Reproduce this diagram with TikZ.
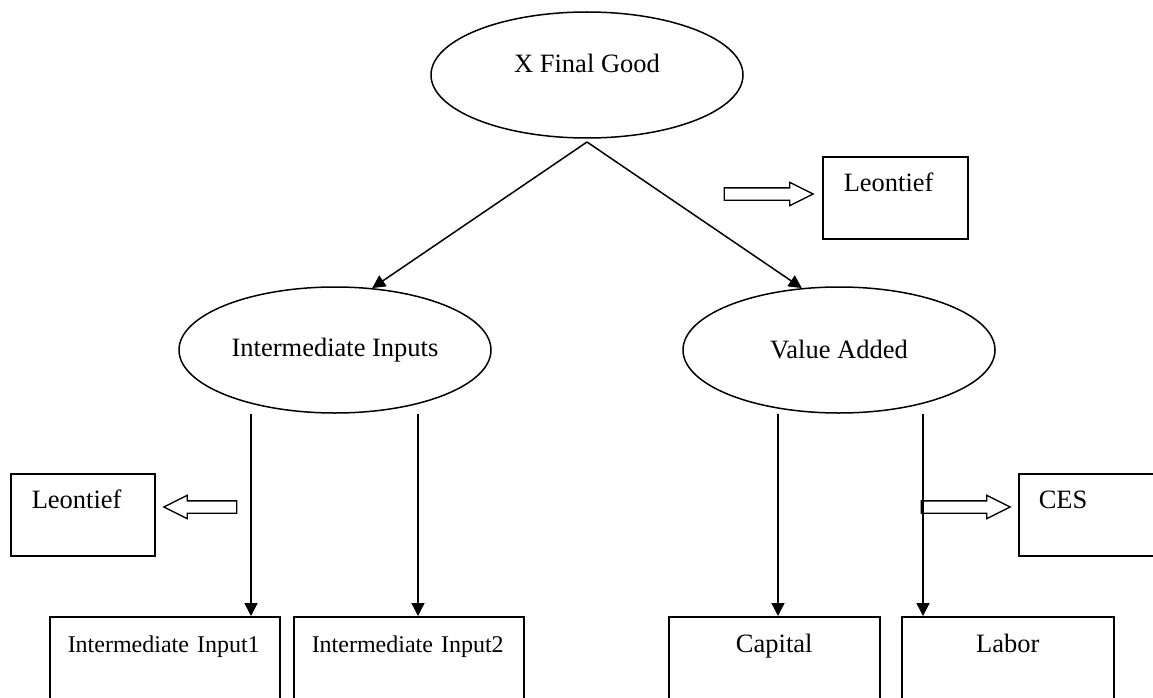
\documentclass[tikz,border=0pt]{standalone}
\usepackage{fontspec}
\setmainfont{Liberation Serif}
\usetikzlibrary{shapes.geometric, shapes.arrows, arrows.meta, positioning}

\tikzset{
  oval/.style={draw, ellipse, line width=1.5pt, minimum width=312pt, minimum height=126pt, inner sep=0pt},
  panel/.style={draw, rectangle, line width=1.5pt, anchor=north west, inner sep=0pt, text height=35pt, text depth=47pt},
  deep/.style={text height=36pt, text depth=110pt},
  lefttext/.style={inner xsep=#1, align=left},
  narrow/.style={font=\fontsize{24}{29}\selectfont},
  flow/.style={-{Triangle[length=13pt,width=13pt]}, line width=1.5pt},
  push/.style={draw, single arrow, line width=1.3pt, inner xsep=0pt, inner ysep=5.5pt,
    single arrow head extend=5.5pt, single arrow tip angle=53, single arrow head indent=0pt}
}

\begin{document}
\begin{tikzpicture}[x=1pt, y=-1pt, every node/.style={font=\fontsize{26.5}{32}\selectfont}]
\useasboundingbox (0,0) rectangle (1153,698);
\clip (0,0) rectangle (1153,698);

\node[oval, text depth=24pt] (final) at (587,75) {X Final Good\hspace{18pt}};
\node[oval] (inter) at (335,350) {Intermediate Inputs\hspace{40pt}};
\node[oval] (value) at (839,350) {Value Added};

\node[panel, lefttext=21pt, text width=103pt] (leon-top) at (822,156) {Leontief};
\node[panel, lefttext=21pt, text width=102pt] (leon-left) at (10,473) {Leontief};
\node[panel, lefttext=20pt, text width=120pt] (ces) at (1018,473) {CES};

\node[panel, deep, narrow, lefttext=18pt, text width=194pt] (in1) at (49,616) {Intermediate Input1};
\node[panel, deep, narrow, lefttext=18pt, text width=194pt] (in2) at (293,616) {Intermediate Input2};
\node[panel, deep, minimum width=211pt] (cap) at (668,616) {Capital\hspace{16pt}};
\node[panel, deep, minimum width=212pt] (lab) at (901,616) {Labor};

\node[push, minimum height=89pt] (push-top) at (762.5,194) {};
\node[push, minimum height=73pt, shape border rotate=180] (push-left) at (206.5,507) {};
\node[push, minimum height=89pt] (push-ces) at (959.5,507) {};

\coordinate (split) at (587,142);
\coordinate (ii-a) at (251,414);
\coordinate (ii-b) at (418,414);
\coordinate (va-a) at (778,414);
\coordinate (va-b) at (923,414);

\draw[flow] (split) -- (inter.59);
\draw[flow] (split) -- (value.121);

\draw[flow] (ii-a) -- (ii-a |- in1.north);
\draw[flow] (ii-b) -- (ii-b |- in2.north);
\draw[flow] (va-a) -- (va-a |- cap.north);
\draw[flow] (va-b) -- (va-b |- lab.north);
\end{tikzpicture}
\end{document}
